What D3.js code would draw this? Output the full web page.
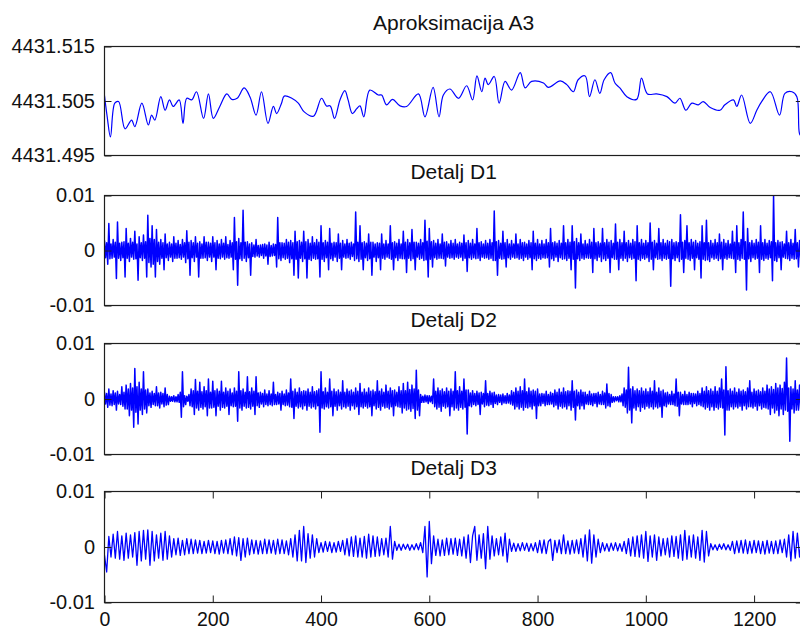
<!DOCTYPE html>
<html><head><meta charset="utf-8">
<script src="https://cdn.jsdelivr.net/npm/d3@7"></script>
<style>
html,body{margin:0;padding:0;background:#fff;overflow:hidden}
svg{display:block;font-family:"Liberation Sans",Arial,Helvetica,sans-serif}
</style></head><body>
<svg id="c" width="800" height="631"></svg>
<script>
// ---------------- data ----------------
const titles = ["Aproksimacija A3", "Detalj D1", "Detalj D2", "Detalj D3"];
const xTicks = [0, 200, 400, 600, 800, 1000, 1200];
const xTickLabels = ["0", "200", "400", "600", "800", "1000", "1200"];
const a3Ticks = [4431.495, 4431.505, 4431.515];
const a3TickLabels = ["4431.495", "4431.505", "4431.515"];
const dTicks = [-0.01, 0, 0.01];
const dTickLabels = ["-0.01", "0", "0.01"];
const xExtent = [0, 1290];          // sample index range
const detailStep = 4;               // one hi/lo pair (or one D3 value) every 4 samples
const detailUnit = 1e-4;            // detail arrays are given in units of 1e-4

// Approximation A3: sample index / value
const a3Index = [0,5,11,19,26,38,50,56,69,81,87,93,104,112,120,127,138,145,152,161,170,183,192,201,213,226,235,245,258,269,280,290,302,312,318,327,332,346,358,369,386,401,410,417,425,435,444,450,458,466,472,479,490,506,512,521,532,546,558,580,592,607,618,626,638,654,669,680,688,697,703,709,720,729,740,752,768,777,789,811,820,842,854,866,875,888,896,906,915,923,935,943,952,965,983,992,1003,1020,1039,1054,1063,1074,1085,1097,1106,1119,1137,1146,1162,1168,1177,1193,1205,1214,1230,1247,1257,1270,1279,1284,1288];
const a3Value = [4431.5060,4431.5021,4431.4984,4431.5046,4431.5049,4431.4999,4431.5015,4431.5003,4431.5046,4431.5006,4431.5024,4431.5015,4431.5058,4431.5033,4431.5052,4431.5040,4431.5052,4431.5009,4431.5055,4431.5052,4431.5067,4431.5018,4431.5063,4431.5018,4431.5040,4431.5063,4431.5053,4431.5055,4431.5074,4431.5057,4431.5024,4431.5067,4431.5009,4431.5040,4431.5027,4431.5046,4431.5059,4431.5055,4431.5046,4431.5030,4431.5022,4431.5055,4431.5041,4431.5041,4431.5018,4431.5052,4431.5069,4431.5052,4431.5027,4431.5036,4431.5041,4431.5021,4431.5070,4431.5061,4431.5061,4431.5043,4431.5053,4431.5041,4431.5040,4431.5063,4431.5021,4431.5075,4431.5021,4431.5061,4431.5072,4431.5055,4431.5078,4431.5052,4431.5096,4431.5067,4431.5092,4431.5080,4431.5095,4431.5046,4431.5086,4431.5070,4431.5102,4431.5074,4431.5086,4431.5083,4431.5075,4431.5087,4431.5080,4431.5067,4431.5089,4431.5096,4431.5058,4431.5089,4431.5064,4431.5089,4431.5102,4431.5083,4431.5074,4431.5058,4431.5053,4431.5092,4431.5063,4431.5063,4431.5058,4431.5046,4431.5055,4431.5033,4431.5046,4431.5043,4431.5049,4431.5038,4431.5033,4431.5043,4431.5052,4431.5040,4431.5061,4431.5009,4431.5033,4431.5049,4431.5067,4431.5024,4431.5064,4431.5067,4431.5058,4431.4990,4431.4985];

// Detail D1 (x1e-4): high and low excursion of each 4-sample stretch
const d1Hi = [
18,14,49,12,20,15,52,13,15,16, 40,13,22,15,35,12,25,14,28,16,
64,22,45,20,38,15,20,14,30,12, 15,12,25,13,18,11,20,14,36,15,
18,14,25,13,16,12,25,15,15,13, 25,14,18,12,20,13,25,11,18,14,
60,16,22,14,73,15,16,12,14,10, 20,9,10,11,12,10,15,9,12,11,
60,14,14,13,20,15,18,14,35,16, 18,15,35,16,20,13,25,14,20,15,
45,14,18,15,40,13,15,14,30,13, 18,12,20,13,15,12,70,15,45,14,
16,13,30,15,15,12,14,13,30,12, 18,12,45,14,16,13,20,12,35,15,
20,14,38,15,15,13,20,14,55,17, 40,16,18,13,20,12,30,15,16,12,
18,13,20,12,15,13,28,14,18,13, 20,12,40,14,16,12,18,13,20,14,
72,16,18,13,35,14,20,12,18,12, 30,12,20,14,15,12,18,14,35,13,
20,12,18,12,20,14,40,14,16,13, 18,13,45,14,20,15,45,16,22,14,
30,12,18,12,20,15,40,14,16,13, 40,14,20,15,18,13,48,15,20,14,
35,14,18,13,20,16,45,14,20,13, 18,14,50,15,18,13,40,14,20,13,
18,16,20,14,16,14,65,15,18,45, 14,20,15,18,13,16,45,14,55,14,
18,13,20,14,30,15,20,13,18,12, 35,15,45,14,20,70,16,40,14,18,
13,20,15,45,14,20,13,18,16,100, 14,18,15,16,12,35,14,20,13,38,
14,18,13];
const d1Lo = [
-13,-25,-15,-14,-12,-51,-14,-18,-13,-48, -14,-20,-12,-16,-15,-54,-13,-18,-14,-48,
-22,-30,-25,-48,-20,-25,-14,-35,-13,-18, -12,-20,-14,-14,-13,-16,-12,-22,-15,-45,
-13,-20,-12,-48,-14,-14,-13,-18,-12,-20, -12,-35,-14,-15,-12,-16,-13,-14,-12,-35,
-16,-63,-15,-18,-14,-20,-13,-45,-11,-12, -10,-12,-9,-14,-10,-25,-11,-10,-9,-30,
-15,-18,-13,-16,-14,-22,-15,-45,-16,-50, -14,-20,-15,-50,-16,-18,-14,-16,-15,-48,
-16,-20,-13,-35,-15,-18,-12,-20,-14,-35, -12,-14,-13,-16,-11,-18,-15,-20,-16,-35,
-13,-18,-15,-45,-12,-20,-13,-35,-14,-16, -12,-14,-16,-35,-13,-18,-14,-15,-15,-40,
-14,-18,-15,-35,-12,-16,-14,-18,-17,-48, -16,-30,-13,-16,-14,-14,-15,-28,-12,-14,
-13,-16,-12,-14,-12,-18,-14,-38,-13,-16, -13,-15,-14,-18,-12,-14,-13,-16,-14,-18,
-18,-45,-14,-16,-15,-30,-13,-16,-12,-14, -13,-16,-14,-18,-12,-16,-13,-35,-15,-18,
-14,-16,-13,-14,-13,-30,-15,-18,-12,-20, -13,-16,-15,-18,-14,-35,-16,-68,-15,-18,
-14,-16,-13,-14,-14,-40,-15,-18,-12,-20, -15,-18,-14,-40,-13,-16,-16,-35,-14,-18,
-14,-20,-13,-16,-14,-55,-16,-18,-14,-16, -13,-20,-16,-35,-13,-16,-15,-18,-14,-16,
-14,-65,-15,-18,-13,-20,-16,-40,-14,-16, -18,-14,-35,-13,-16,-50,-16,-18,-17,-20,
-13,-16,-14,-18,-15,-35,-14,-16,-13,-14, -15,-40,-16,-18,-14,-16,-72,-15,-20,-13,
-16,-14,-40,-16,-18,-14,-16,-13,-55,-18, -20,-13,-35,-12,-14,-15,-18,-14,-16,-15,
-30,-13,-20];

// Detail D2 (x1e-4): high and low excursion of each 4-sample stretch
const d2Hi = [
12,10,18,9,15,11,14,8,22,12, 25,18,28,20,55,22,30,18,49,16,
18,11,14,10,22,11,12,10,20,8, 5,4,6,4,8,12,49,6,5,8,
18,15,35,14,30,13,22,15,36,12, 32,15,18,14,32,12,20,14,18,11,
20,14,49,15,18,12,40,13,20,14, 40,11,12,10,16,9,15,9,30,8,
12,10,14,9,16,11,36,14,18,12, 20,13,15,14,18,12,22,13,15,18,
49,13,20,12,36,14,18,13,16,12, 33,12,18,14,16,12,20,14,28,12,
18,12,20,14,16,13,33,14,18,12, 25,14,20,15,16,12,22,15,28,15,
30,17,25,18,52,16,8,5,7,6, 6,5,36,14,20,15,18,13,20,14,
18,14,49,15,22,14,36,16,16,11, 15,10,14,11,12,10,33,10,14,11,
12,7,8,7,9,6,10,7,15,12, 20,14,22,15,36,13,20,14,16,14,
18,9,10,9,14,8,12,10,16,12, 18,12,20,13,15,14,33,14,16,12,
16,12,12,8,14,9,10,10,12,8, 14,11,27,10,8,4,4,4,6,9,
20,16,57,18,22,15,18,15,20,14, 18,13,20,14,33,12,20,14,16,11,
12,8,14,9,36,12,12,8,14,8, 12,10,10,9,14,10,20,14,22,15,
18,14,22,14,20,36,16,58,15,18, 14,20,12,18,14,16,13,20,33,12,
18,14,16,13,20,14,25,18,22,17, 28,20,25,19,30,74,20,22,18,33,
16,25,15];
const d2Lo = [
-9,-15,-11,-12,-10,-20,-9,-10,-13,-18, -18,-30,-20,-51,-24,-45,-20,-28,-18,-25,
-12,-15,-10,-12,-12,-16,-9,-14,-11,-10, -4,-4,-5,-5,-6,-33,-14,-10,-4,-12,
-14,-28,-16,-20,-15,-18,-14,-30,-16,-16, -15,-30,-13,-20,-15,-16,-13,-28,-12,-14,
-13,-40,-16,-20,-13,-16,-15,-18,-13,-28, -12,-15,-9,-14,-10,-12,-10,-12,-10,-10,
-9,-20,-10,-12,-11,-14,-15,-35,-13,-16, -14,-18,-12,-20,-13,-16,-14,-18,-12,-60,
-16,-18,-14,-16,-14,-30,-13,-20,-12,-18, -14,-16,-13,-20,-12,-18,-14,-28,-14,-16,
-13,-16,-14,-30,-12,-18,-15,-20,-13,-16, -15,-18,-14,-30,-12,-14,-15,-25,-16,-20,
-18,-22,-17,-35,-20,-30,-6,-6,-5,-8, -5,-8,-14,-18,-15,-22,-13,-16,-14,-30,
-14,-20,-16,-20,-15,-18,-15,-63,-12,-14, -10,-12,-10,-28,-9,-14,-11,-12,-10,-15,
-8,-10,-6,-10,-7,-8,-7,-9,-11,-18, -14,-18,-15,-20,-15,-16,-14,-18,-12,-35,
-12,-12,-8,-12,-10,-10,-9,-14,-11,-18, -13,-16,-14,-18,-12,-20,-15,-38,-12,-18,
-12,-18,-9,-10,-10,-12,-8,-14,-9,-10, -10,-16,-12,-14,-6,-5,-3,-5,-5,-12,
-15,-25,-20,-43,-16,-20,-14,-22,-15,-18, -13,-16,-14,-18,-14,-16,-14,-33,-12,-14,
-9,-10,-10,-12,-13,-30,-9,-10,-10,-10, -9,-14,-8,-12,-10,-12,-14,-18,-15,-20,
-14,-20,-15,-18,-15,-16,-65,-20,-20,-14, -18,-14,-16,-13,-20,-12,-18,-14,-14,-16,
-13,-20,-12,-18,-15,-16,-18,-28,-16,-25, -20,-30,-18,-28,-20,-22,-76,-18,-25,-20,
-20,-18,-22];

// Detail D3 (x1e-4): one value every 4 samples
const d3v = [
-15,-45,19,-18,23,-20,28,-22,20,-24, 25,-20,22,-18,26,-33,28,-25,30,-22,
31,-33,28,-25,22,-20,25,-24,28,-22, 20,-18,15,-14,16,-15,12,-14,15,-12,
14,-12,13,-11,12,-12,10,-11,12,-10, 11,-12,10,-13,12,-11,13,-12,15,-14,
18,-16,17,-24,15,-18,16,-14,13,-12, 12,-13,11,-12,14,-12,13,-11,12,-13,
14,-12,13,-12,11,-14,15,-18,22,-25, 30,-25,37,-28,24,-20,22,-18,15,-10,
8,-9,10,-8,9,-10,8,-9,10,-8, 12,-14,15,-16,18,-17,20,-18,16,-18,
19,-20,23,-18,20,-17,18,-16,15,-14, 16,-18,37,-22,10,-6,5,-6,5,-4,
5,-6,4,-5,6,-5,8,-10,37,-54, 46,-30,20,-15,14,-16,13,-15,16,-14,
15,-13,16,-15,14,-16,18,-20,22,-28, 20,37,-24,22,-20,24,-39,37,-22,20,
-16,15,-14,18,-16,25,-27,14,-8,7, -8,6,-7,8,-6,7,-8,6,-7,8,
-10,12,-11,13,-12,10,14,-24,12,-10, 13,-12,22,-12,11,-13,12,-11,13,-12,
15,-18,22,-25,31,-29,22,-18,14,-10, 8,-7,6,-8,7,-6,8,-7,6,-8,
10,-12,15,-16,18,-17,20,-18,22,-20, 28,-26,20,-18,22,-24,18,-16,15,-14,
16,-18,20,-17,19,-20,22,-24,30,-22, 20,-18,22,-20,18,-24,30,-27,28,-16,
6,-5,4,-6,5,-4,6,-5,4,-6, 10,-12,11,-10,12,-11,13,-12,10,-11,
12,-10,11,-12,10,-13,12,-11,10,-12, 11,-12,13,-10,14,-18,22,-25,28,-20,
25,-18,15];

// ---------------- layout ----------------
const svg = d3.select("#c");
svg.append("rect").attr("width", 800).attr("height", 631).attr("fill", "#fff");
const plotLeft = 104.5, plotRight = 802.8;
const boxes = [
  {top: 46.5, bottom: 155.5},
  {top: 195.5, bottom: 305.5},
  {top: 343.5, bottom: 454.5},
  {top: 491.5, bottom: 602.5}
];
const strokeWidths = [1.2, 1.5, 1.5, 1.3];
const axisColor = "#1e1e1e";
const lineColor = "#0000ff";
const x = d3.scaleLinear().domain(xExtent).range([plotLeft, plotRight]);

const a3Points = a3Index.map((t, i) => [t, a3Value[i]]);
const hiLoPoints = (hi, lo) => hi.flatMap((h, k) => [
  [k * detailStep, h * detailUnit],
  [k * detailStep + detailStep / 2, lo[k] * detailUnit]
]);
const detailPoints = arr => arr.map((v, k) => [k * detailStep, v * detailUnit]);

const series = [
  {pts: a3Points, domain: [4431.495, 4431.515], ticks: a3Ticks, labels: a3TickLabels, curve: d3.curveCatmullRom.alpha(0.5)},
  {pts: hiLoPoints(d1Hi, d1Lo), domain: [-0.01, 0.01], ticks: dTicks, labels: dTickLabels, curve: d3.curveLinear},
  {pts: hiLoPoints(d2Hi, d2Lo), domain: [-0.01, 0.01], ticks: dTicks, labels: dTickLabels, curve: d3.curveLinear},
  {pts: detailPoints(d3v), domain: [-0.01, 0.01], ticks: dTicks, labels: dTickLabels, curve: d3.curveLinear}
];

function styleAxis(g, size) {
  g.select(".domain").remove();
  g.selectAll(".tick line").attr("stroke", axisColor).attr("stroke-width", 1);
  g.selectAll(".tick text").attr("fill", "#111").attr("font-size", size || 20)
    .attr("font-family", "\"Liberation Sans\",Arial,sans-serif");
}

series.forEach((s, i) => {
  const b = boxes[i];
  const y = d3.scaleLinear().domain(s.domain).range([b.bottom, b.top]);
  const g = svg.append("g");

  g.append("clipPath").attr("id", "clip" + i)
    .append("rect").attr("x", plotLeft).attr("y", b.top)
    .attr("width", plotRight - plotLeft).attr("height", b.bottom - b.top);

  const line = d3.line().x(d => x(d[0])).y(d => y(d[1])).curve(s.curve);
  g.append("path").datum(s.pts)
    .attr("clip-path", "url(#clip" + i + ")")
    .attr("d", line).attr("fill", "none")
    .attr("stroke", lineColor).attr("stroke-width", strokeWidths[i])
    .attr("stroke-linejoin", "round");

  g.append("g").attr("transform", `translate(${plotLeft},0)`)
    .call(d3.axisLeft(y).tickValues(s.ticks).tickFormat((d, j) => s.labels[j])
      .tickSizeInner(-7).tickSizeOuter(0).tickPadding(9.5))
    .call(styleAxis);
  g.append("g").attr("transform", `translate(${plotRight},0)`)
    .call(d3.axisRight(y).tickValues(s.ticks).tickFormat("")
      .tickSizeInner(-7).tickSizeOuter(0))
    .call(styleAxis);

  if (i === 3) {
    g.append("g").attr("transform", `translate(0,${b.bottom})`)
      .call(d3.axisBottom(x).tickValues(xTicks).tickFormat((d, j) => xTickLabels[j])
        .tickSizeInner(-7).tickSizeOuter(0).tickPadding(10))
      .call(g2 => styleAxis(g2, 19.5));
    g.append("g").attr("transform", `translate(0,${b.top})`)
      .call(d3.axisTop(x).tickValues(xTicks).tickFormat("")
        .tickSizeInner(-7).tickSizeOuter(0))
      .call(styleAxis);
  }

  g.append("rect").attr("x", plotLeft).attr("y", b.top)
    .attr("width", plotRight - plotLeft).attr("height", b.bottom - b.top)
    .attr("fill", "none").attr("stroke", axisColor).attr("stroke-width", 1.2);

  g.append("text").attr("x", (plotLeft + plotRight) / 2).attr("y", b.top - 17)
    .attr("text-anchor", "middle").attr("font-size", 21).attr("fill", "#111")
    .text(titles[i]);
});
</script>
</body></html>
